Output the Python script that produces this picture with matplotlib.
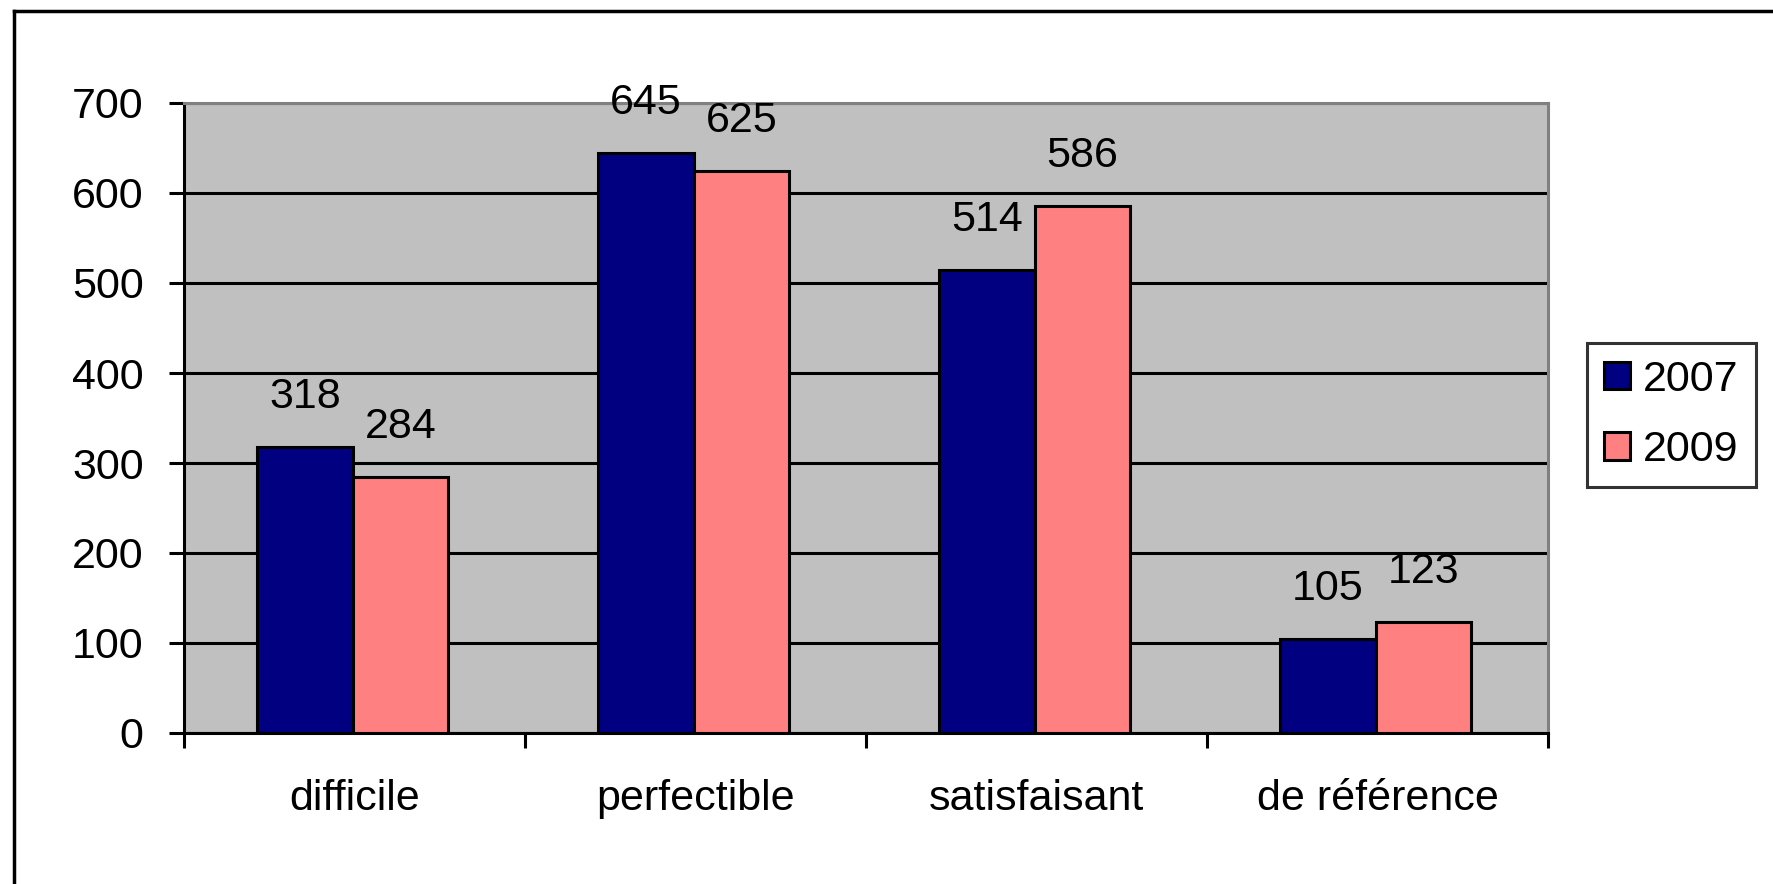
import matplotlib
matplotlib.use("Agg")
import matplotlib.pyplot as plt
from matplotlib.lines import Line2D
import numpy as np

categories = ["difficile", "perfectible", "satisfaisant", "de référence"]
years = ["2007", "2009"]
values_2007 = [318, 645, 514, 105]
values_2009 = [284, 625, 586, 123]
y_ticks = [0, 100, 200, 300, 400, 500, 600, 700]

plt.rcParams['font.family'] = ['Liberation Sans', 'DejaVu Sans']
fs = 31

fig = plt.figure(figsize=(17.74, 8.84), dpi=100)
ax = fig.add_axes([184/1774, 1 - 733/884, (1548-184)/1774, (733-103)/884])
ax.set_facecolor("#C0C0C0")

x = np.arange(len(categories))
w = 0.28
b1 = ax.bar(x - 0.145, values_2007, w, color="#000080", edgecolor="black", linewidth=2.2, zorder=3, label=years[0])
b2 = ax.bar(x + 0.135, values_2009, w, color="#FF8080", edgecolor="black", linewidth=2.2, zorder=3, label=years[1])

for bars, vals in ((b1, values_2007), (b2, values_2009)):
    for rect, v in zip(bars, vals):
        ax.annotate(str(v), (rect.get_x() + rect.get_width()/2, v),
                    xytext=(0, 36), textcoords="offset points",
                    ha="center", va="center", fontsize=fs, zorder=4)

ax.set_xlim(-0.5, len(categories) - 0.5)
ax.set_ylim(0, 700)
ax.set_yticks(y_ticks)
ax.yaxis.grid(True, color="black", linewidth=2.2, zorder=1)
ax.set_axisbelow(True)

# ticks on category boundaries, labels at centres
ax.set_xticks(np.arange(len(categories) + 1) - 0.5)
ax.set_xticklabels([])
ax.set_xticks(x, minor=True)
ax.set_xticklabels(categories, minor=True, fontsize=fs)
ax.tick_params(axis="x", which="major", direction="out", length=11, width=2.2, color="black")
ax.tick_params(axis="x", which="minor", length=0, pad=33)
ax.tick_params(axis="y", direction="out", length=11, width=2.2, pad=18, labelsize=fs)

for side in ("left", "bottom"):
    ax.spines[side].set_color("black")
    ax.spines[side].set_linewidth(2.2)
for side in ("top", "right"):
    ax.spines[side].set_color("#808080")
    ax.spines[side].set_linewidth(2.2)

leg = fig.legend(handles=[b1, b2], labels=years, loc="center left",
                 bbox_to_anchor=(1587/1774, 1 - 415/884), fontsize=fs,
                 handlelength=0.6, handleheight=0.6, handletextpad=0.3,
                 labelspacing=0.7, borderpad=0.4, fancybox=False,
                 frameon=True, edgecolor="black", borderaxespad=0)
leg.get_frame().set_linewidth(2.2)

# outer frame (left and top edges only visible)
fig.add_artist(Line2D([14/1774, 14/1774], [0, 1 - 11/884], color="black", linewidth=2.5, transform=fig.transFigure))
fig.add_artist(Line2D([14/1774, 1], [1 - 11/884, 1 - 11/884], color="black", linewidth=2.5, transform=fig.transFigure))

fig.savefig("out.png", dpi=100)
